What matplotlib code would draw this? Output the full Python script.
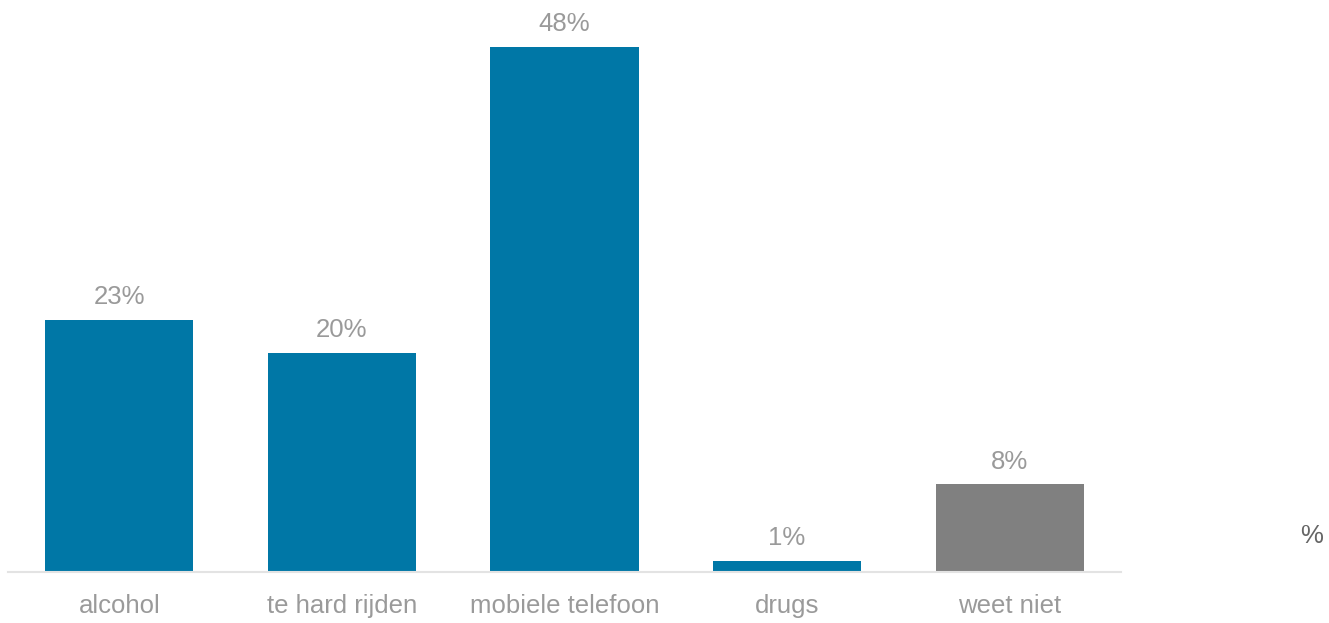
import matplotlib.pyplot as plt

# Categories and percentages
categories = ['alcohol', 'te hard rijden', 'mobiele telefoon', 'drugs', 'weet niet']
values = [23, 20, 48, 1, 8]
colors = ['#0077a6', '#0077a6', '#0077a6', '#0077a6', '#808080']

plt.rcParams['font.family'] = ['Liberation Sans', 'DejaVu Sans']

fig = plt.figure(figsize=(13.29, 6.23), dpi=100)
ax = fig.add_axes([8 / 1329, 51 / 623, 1113 / 1329, 547 / 623])

x = range(len(categories))
bars = ax.bar(x, values, width=0.665, color=colors)

for bar, v in zip(bars, values):
    ax.text(bar.get_x() + bar.get_width() / 2, v + 1.0, f'{v}%',
            ha='center', va='bottom', fontsize=18.5, color='#9a9a9a')

ax.set_xlim(-0.5, 4.5)
ax.set_ylim(0, 50)
ax.set_xticks(list(x))
ax.set_xticklabels(categories, fontsize=18.5, color='#9a9a9a')
ax.tick_params(axis='x', length=0, pad=15.5)
ax.set_yticks([])

for side in ['top', 'right', 'left']:
    ax.spines[side].set_visible(False)
ax.spines['bottom'].set_color('#e3e3e3')
ax.spines['bottom'].set_linewidth(1.5)

fig.text(1312 / 1329, 1 - 536 / 623, '%', ha='center', va='center',
         fontsize=18.5, color='#666666')

fig.savefig('out.png', dpi=100)
